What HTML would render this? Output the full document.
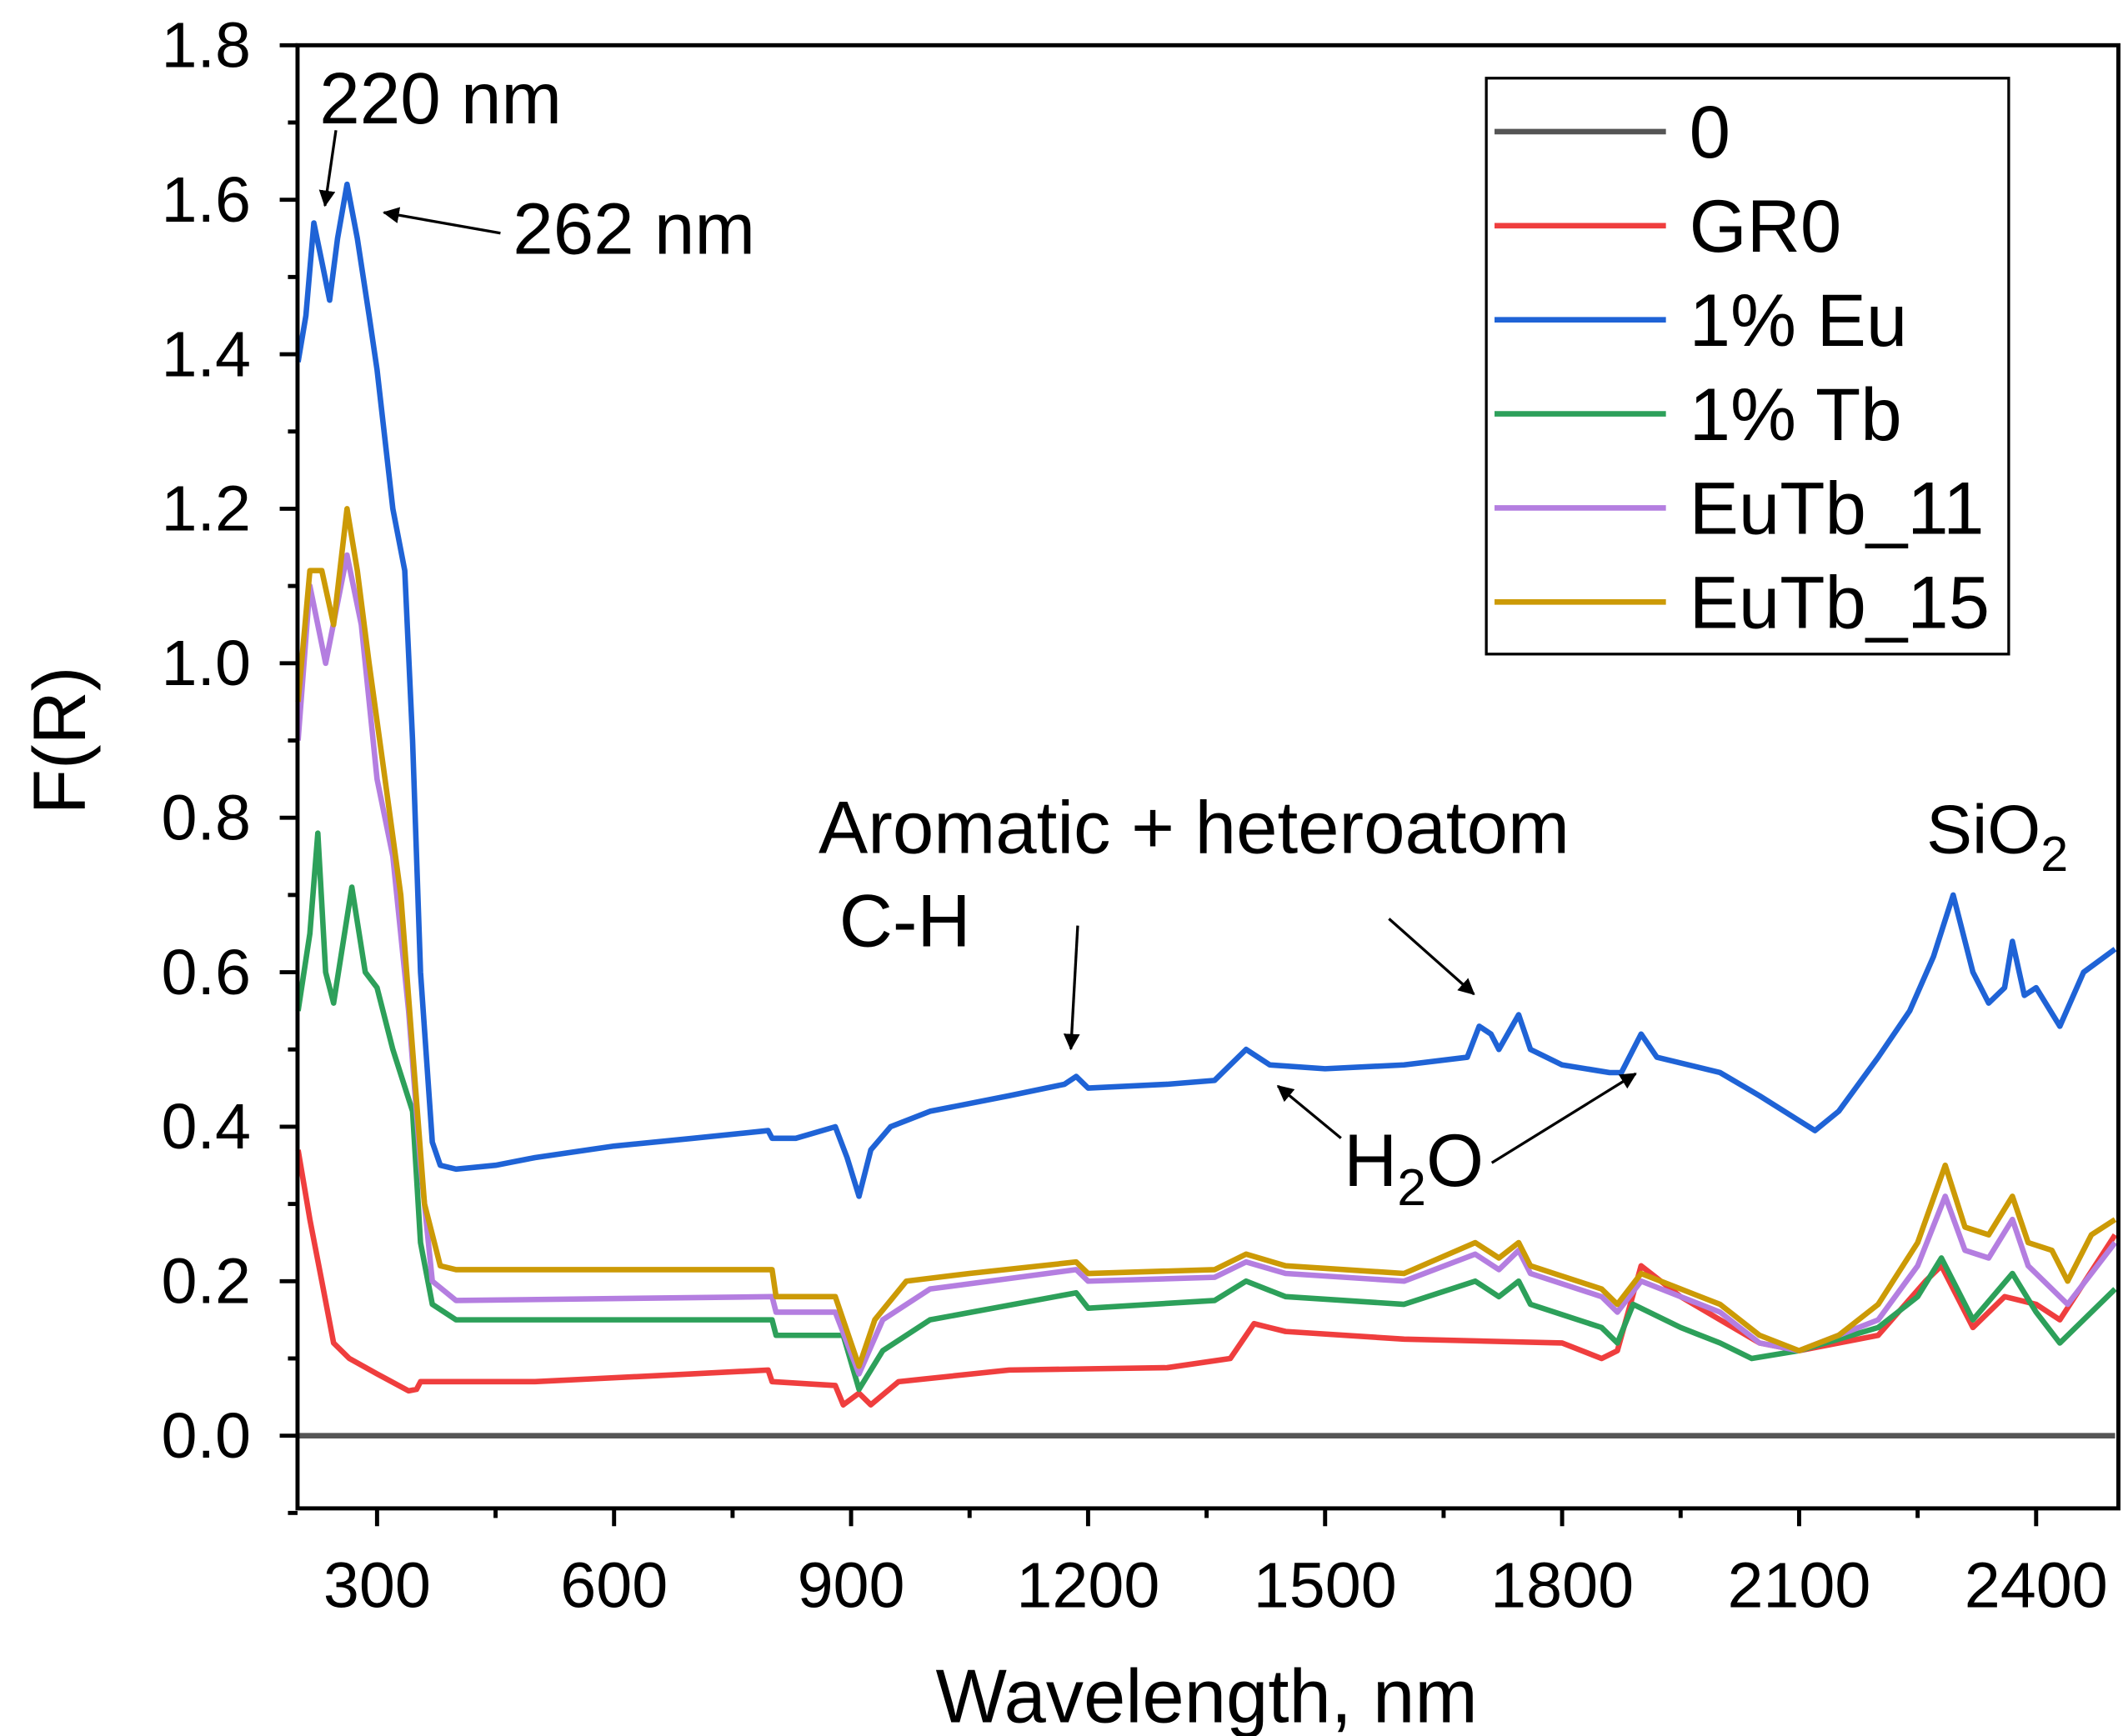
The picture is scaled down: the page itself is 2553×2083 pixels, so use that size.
<!DOCTYPE html>
<html><head><meta charset="utf-8"><style>
html,body{margin:0;padding:0;background:#fff;}
svg{display:block;font-family:"Liberation Sans",Arial,sans-serif;}
</style></head><body>
<svg id="chart" width="2553" height="2083" viewBox="0 0 1552 1266" preserveAspectRatio="none" xmlns="http://www.w3.org/2000/svg">
<defs><marker id="ah" markerWidth="12" markerHeight="12" refX="11" refY="6" orient="auto" markerUnits="userSpaceOnUse"><path d="M0,0 L12,6 L0,12 z" fill="#000"/></marker></defs>
<g id="series"></g>
<g id="axes"></g>
<g id="legend">
<rect x="1084" y="57" width="381" height="420" fill="#fff" stroke="#000" stroke-width="2"/>
</g>
<g font-size="53">
<text x="233" y="90">220 nm</text>
<line x1="245" y1="95" x2="237" y2="150" stroke="#000" stroke-width="2" marker-end="url(#ah)"/>
<text x="374" y="185">262 nm</text>
<line x1="365" y1="170" x2="280" y2="155" stroke="#000" stroke-width="2" marker-end="url(#ah)"/>
<text x="597" y="622" font-size="54">Aromatic + heteroatom</text>
<text x="612" y="690" font-size="54">C-H</text>
<line x1="786" y1="675" x2="781" y2="765" stroke="#000" stroke-width="2" marker-end="url(#ah)"/>
<line x1="1013" y1="670" x2="1075" y2="725" stroke="#000" stroke-width="2" marker-end="url(#ah)"/>
<text x="980" y="865" font-size="54">H<tspan font-size="38" dy="14">2</tspan><tspan dy="-14">O</tspan></text>
<line x1="978" y1="830" x2="932" y2="792" stroke="#000" stroke-width="2" marker-end="url(#ah)"/>
<line x1="1088" y1="848" x2="1193" y2="783" stroke="#000" stroke-width="2" marker-end="url(#ah)"/>
<text x="1405" y="622" font-size="50">SiO<tspan font-size="36" dy="13">2</tspan></text>
</g>
</svg>
<script>
const xTicks=[300,600,900,1200,1500,1800,2100,2400];
const yTicks=[0,0.2,0.4,0.6,0.8,1.0,1.2,1.4,1.6,1.8];
const seriesNames=["0","GR0","1% Eu","1% Tb","EuTb_11","EuTb_15"];
const zeroW=[200,2500];
const zeroV=[0,0];
const gr0W=[200,215,230,245,265,300,340,350,355,400,500,700,795,800,880,890,910,925,960,1100,1300,1380,1410,1450,1600,1800,1850,1870,1900,1950,2000,2050,2100,2200,2260,2280,2320,2360,2400,2430,2500];
const gr0V=[0.37,0.28,0.2,0.12,0.1,0.08,0.058,0.06,0.07,0.07,0.07,0.08,0.085,0.07,0.065,0.04,0.055,0.04,0.07,0.085,0.088,0.1,0.145,0.135,0.125,0.12,0.1,0.11,0.22,0.18,0.15,0.12,0.11,0.13,0.2,0.22,0.14,0.18,0.17,0.15,0.26];
const euW=[200,210,220,230,240,250,262,275,290,300,320,335,345,355,370,380,400,450,500,600,700,795,800,830,880,895,910,925,950,1000,1100,1170,1185,1200,1300,1360,1380,1400,1430,1500,1600,1680,1695,1710,1720,1745,1760,1800,1860,1875,1900,1920,2000,2050,2120,2150,2200,2240,2270,2295,2320,2340,2360,2370,2385,2400,2430,2460,2500];
const euV=[1.39,1.45,1.57,1.52,1.47,1.55,1.62,1.55,1.45,1.38,1.2,1.12,0.9,0.6,0.38,0.35,0.345,0.35,0.36,0.375,0.385,0.395,0.385,0.385,0.4,0.36,0.31,0.37,0.4,0.42,0.44,0.455,0.465,0.45,0.455,0.46,0.48,0.5,0.48,0.475,0.48,0.49,0.53,0.52,0.5,0.545,0.5,0.48,0.47,0.47,0.52,0.49,0.47,0.44,0.395,0.42,0.49,0.55,0.62,0.7,0.6,0.56,0.58,0.64,0.57,0.58,0.53,0.6,0.63];
const tbW=[200,215,225,235,245,268,285,300,320,345,355,370,400,800,805,890,910,940,1000,1185,1200,1360,1400,1450,1600,1690,1720,1745,1760,1850,1870,1890,1950,2000,2040,2100,2200,2250,2280,2320,2370,2400,2430,2500];
const tbV=[0.55,0.65,0.78,0.6,0.56,0.71,0.6,0.58,0.5,0.42,0.25,0.17,0.15,0.15,0.13,0.13,0.06,0.11,0.15,0.185,0.165,0.175,0.2,0.18,0.17,0.2,0.18,0.2,0.17,0.14,0.12,0.17,0.14,0.12,0.1,0.11,0.14,0.18,0.23,0.15,0.21,0.16,0.12,0.19];
const e11W=[200,215,235,262,280,300,320,340,355,370,400,800,805,880,910,940,1000,1185,1200,1360,1400,1450,1600,1690,1720,1745,1760,1850,1870,1900,2000,2050,2100,2200,2250,2285,2310,2340,2370,2390,2440,2500];
const e11V=[0.9,1.1,1.0,1.14,1.05,0.85,0.75,0.55,0.35,0.2,0.175,0.18,0.16,0.16,0.08,0.15,0.19,0.215,0.2,0.205,0.225,0.21,0.2,0.235,0.215,0.24,0.21,0.18,0.16,0.2,0.16,0.12,0.11,0.15,0.22,0.31,0.24,0.23,0.28,0.22,0.17,0.25];
const e15W=[200,215,230,245,262,275,290,310,330,345,360,380,400,800,805,880,900,910,930,970,1050,1185,1200,1360,1400,1450,1600,1690,1720,1745,1760,1850,1870,1900,1950,2000,2050,2100,2150,2200,2250,2285,2310,2340,2370,2390,2420,2440,2470,2500];
const e15V=[0.95,1.12,1.12,1.05,1.2,1.12,1.0,0.85,0.7,0.5,0.3,0.22,0.215,0.215,0.18,0.18,0.12,0.09,0.15,0.2,0.21,0.225,0.21,0.215,0.235,0.22,0.21,0.25,0.23,0.25,0.22,0.19,0.17,0.21,0.19,0.17,0.13,0.11,0.13,0.17,0.25,0.35,0.27,0.26,0.31,0.25,0.24,0.2,0.26,0.28];
const colors=["#555555","#ef3e3e","#1f63d6","#2da05a","#b47ee0","#cc9a06"];
const NS="http://www.w3.org/2000/svg";
const X0=217,X1=1545,Y0=33,Y1=1100;
function xs(w){return 275+(w-300)*(1210/2100);}
function ys(v){return 1047-v*(1014/1.8);}
function mk(t,a,p){const e=document.createElementNS(NS,t);for(const k in a)e.setAttribute(k,a[k]);p.appendChild(e);return e;}
const S=document.getElementById('series'),A=document.getElementById('axes'),L=document.getElementById('legend');
const data=[[zeroW,zeroV],[gr0W,gr0V],[euW,euV],[tbW,tbV],[e11W,e11V],[e15W,e15V]];
const order=[0,1,3,4,5,2];
order.forEach(i=>{const [w,v]=data[i];
 const p=mk('polyline',{points:w.map((x,j)=>xs(x).toFixed(1)+','+ys(v[j]).toFixed(1)).join(' '),fill:'none',stroke:colors[i],'stroke-width':4,'stroke-linejoin':'round'},S);
 
 
});
const fr=mk('rect',{x:X0,y:Y0,width:X1-X0,height:Y1-Y0,fill:'none',stroke:'#000','stroke-width':3},A);


yTicks.forEach(v=>{const y=ys(v);
 mk('line',{x1:X0-13,x2:X0,y1:y,y2:y,stroke:'#000','stroke-width':3},A);
 mk('line',{x1:X0-7,x2:X0,y1:ys(v-0.1),y2:ys(v-0.1),stroke:'#000','stroke-width':3},A);
 const t=mk('text',{x:183,y:y+16,'text-anchor':'end','font-size':47},A);t.textContent=v.toFixed(1);
 
 
});
xTicks.forEach(w=>{const x=xs(w);
 mk('line',{x1:x,x2:x,y1:Y1,y2:Y1+13,stroke:'#000','stroke-width':3},A);
 mk('line',{x1:xs(w+150),x2:xs(w+150),y1:Y1,y2:Y1+7,stroke:'#000','stroke-width':3},A);
 const t=mk('text',{x:x,y:1172,'text-anchor':'middle','font-size':47},A);t.textContent=w;
 
 
});
const xt=mk('text',{x:880,y:1256,'text-anchor':'middle','font-size':55},A);xt.textContent='Wavelength, nm';


const yt=mk('text',{x:0,y:0,'text-anchor':'middle','font-size':54,transform:'translate(62,540) rotate(-90)'},A);yt.textContent='F(R)';


seriesNames.forEach((n,i)=>{const y=96+i*68.6;
 const g=mk('g',{},L);
 
 
 mk('line',{x1:1090,x2:1215,y1:y,y2:y,stroke:colors[i],'stroke-width':4},g);
 const t=mk('text',{x:1232,y:y+19,'font-size':54},g);t.textContent=n;
});
</script>
</body></html>
